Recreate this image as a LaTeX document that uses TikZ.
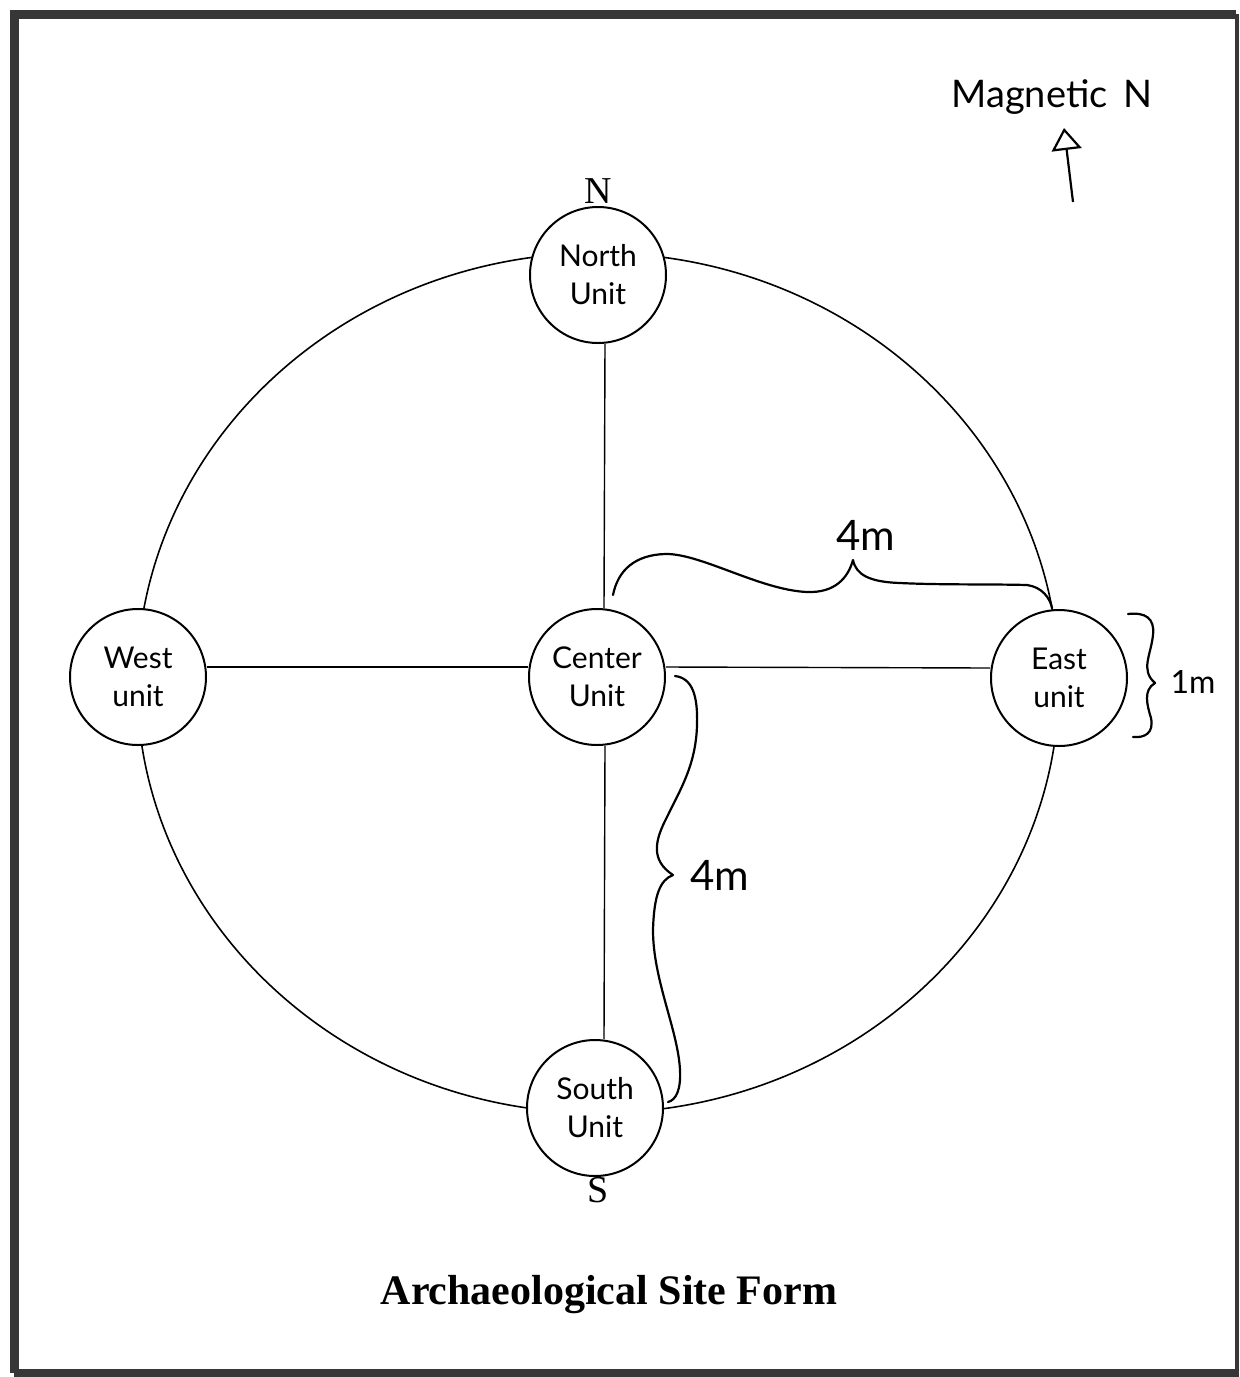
\documentclass[tikz,border=0pt]{standalone}
\usepackage{fontspec}
\setmainfont{Liberation Serif}
\newfontfamily\hand{Lato}
\usepackage{tikz}
\usetikzlibrary{arrows.meta}
\definecolor{frameGray}{RGB}{55,55,55}

\begin{document}
\begin{tikzpicture}[
  x=0.5pt, y=-0.5pt,
  unit/.style={circle, draw, line width=1pt, fill=white, minimum size=68pt,
               inner sep=0pt, align=center,
               font=\hand\fontsize{15}{19}\selectfont},
  link/.style={line width=0.7pt},
  ring/.style={line width=0.8pt},
  sketch/.style={line width=1.1pt, line cap=round, line join=round},
  note/.style={font=\hand\fontsize{21}{24}\selectfont},
  pole/.style={font=\fontsize{19}{22}\selectfont},
  edgeline/.style={line width=4.5pt, frameGray}
]
  \useasboundingbox (0,0) rectangle (1239,1377);

  % frame
  \draw[edgeline] (14,1373) -- (14,14) -- (1236,14);
  \draw[edgeline] (14,1373) -- (1239,1373);
  \draw[line width=1.75pt, frameGray] (1237,14) -- (1237,1373);

  % site outline
  \draw[ring] (598,683) ellipse [x radius=461, y radius=430];

  % excavation units
  \node[unit] (north)  at (598,275)  {North\\Unit};
  \node[unit] (center) at (597,677)  {Center\\Unit};
  \node[unit] (west)   at (138,677)  {West\\unit};
  \node[unit] (east)   at (1059,678) {East\\unit};
  \node[unit] (south)  at (595,1108) {South\\Unit};

  \draw[link] ([xshift=3.5pt]north.south) -- ([xshift=3.5pt]center.north);
  \draw[link] ([xshift=4pt]center.south) -- ([xshift=4.5pt]south.north);
  \draw[link] ([yshift=5pt]west.east) -- ([yshift=5pt]center.west);
  \draw[link] ([yshift=5pt]center.east) -- ([yshift=5pt]east.west);

  \node[pole] (nmark) at (598,191)  {N};
  \node[pole] (smark) at (598,1190) {S};

  % hand-drawn braces
  \draw[sketch] (613,595) .. controls (618,570) and (635,555) .. (665,554)
    .. controls (700,553) and (760,590) .. (807,592)
    .. controls (835,593) and (848,578) .. (853,560)
    .. controls (856,575) and (870,582) .. (900,583)
    .. controls (940,585) and (990,584) .. (1027,585)
    .. controls (1042,587) and (1050,598) .. (1052,608);
  \node[note] (distE) at (866,535) {4m};

  \draw[sketch] (675,676) .. controls (692,678) and (698,695) .. (697,725)
    .. controls (696,765) and (680,790) .. (667,817)
    .. controls (655,840) and (650,860) .. (673,875)
    .. controls (660,880) and (654,895) .. (653,930)
    .. controls (653,980) and (678,1030) .. (680,1070)
    .. controls (681,1090) and (676,1100) .. (668,1102);
  \node[note] (distS) at (720,875) {4m};

  \draw[sketch] (1128,614) .. controls (1145,612) and (1155,618) .. (1153,635)
    .. controls (1151,655) and (1140,670) .. (1155,683)
    .. controls (1143,690) and (1147,705) .. (1151,718)
    .. controls (1154,733) and (1145,738) .. (1133,737);
  \node[note, font=\hand\fontsize{16}{18}\selectfont] (size) at (1193,682) {1m};

  % north arrow
  \node[font=\hand\fontsize{19}{22}\selectfont] (magn) at (1052,97)
    {Magnetic\hspace{8pt}N};
  \coordinate (magtail) at (1073,202);
  \coordinate (maghead) at (1064,128);
  \draw[line width=1.1pt, -{Triangle[open, width=15pt, length=11pt]}]
    (magtail) -- (maghead);

  \node[font=\bfseries\fontsize{21}{25}\selectfont] (title) at (609,1295)
    {Archaeological Site Form};
\end{tikzpicture}
\end{document}
